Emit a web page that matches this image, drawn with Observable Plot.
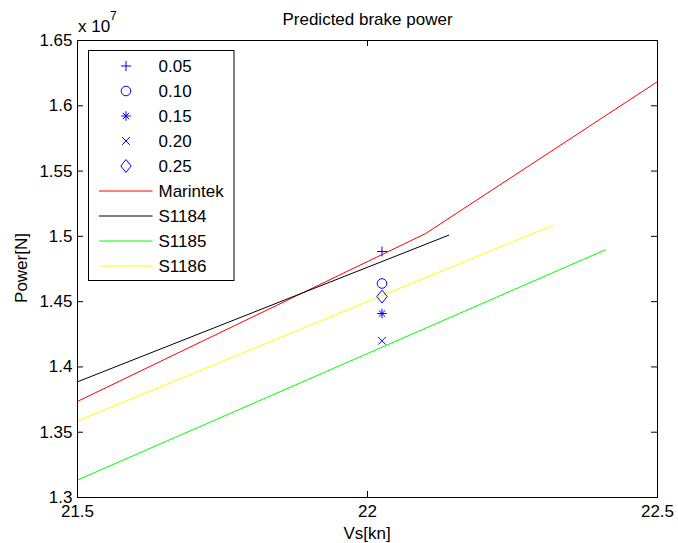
<!DOCTYPE html>
<html>
<head>
<meta charset="utf-8">
<script src="https://cdn.jsdelivr.net/npm/d3@7"></script>
<script src="https://cdn.jsdelivr.net/npm/@observablehq/plot@0.6"></script>
<style>
  html, body { margin: 0; padding: 0; background: #fff; }
  #chart { width: 678px; height: 543px; }
</style>
</head>
<body>
<div id="chart"></div>
<script>
// ---- data ----
const xTicks = [21.5, 22, 22.5];
const yTicks = [1.3e7, 1.35e7, 1.4e7, 1.45e7, 1.5e7, 1.55e7, 1.6e7, 1.65e7];

const markerLabels = ["0.05", "0.10", "0.15", "0.20", "0.25"];
const markerVs = [22.025, 22.025, 22.025, 22.025, 22.025];
const markerPower = [1.4884e7, 1.4639e7, 1.4409e7, 1.4200e7, 1.4539e7];

const seriesNames = ["Marintek", "S1184", "S1185", "S1186"];
const seriesColors = ["#ff0000", "#000000", "#00ff00", "#ffff00"];
const marintekVs = [21.5, 22.1, 22.5];
const marintekP = [1.3736e7, 1.5021e7, 1.6185e7];
const s1184Vs = [21.5, 22.14];
const s1184P = [1.3886e7, 1.5009e7];
const s1185Vs = [21.5, 22.41];
const s1185P = [1.3134e7, 1.4897e7];
const s1186Vs = [21.5, 22.32];
const s1186P = [1.3586e7, 1.5086e7];

// ---- helpers ----
const seriesVs = [marintekVs, s1184Vs, s1185Vs, s1186Vs];
const seriesP = [marintekP, s1184P, s1185P, s1186P];
const lineRows = seriesNames.flatMap((name, k) =>
  seriesVs[k].map((v, i) => ({name, vs: v, p: seriesP[k][i]})));

const diamondTall = {
  draw(ctx, size) {
    const h = Math.sqrt(size) * 0.76, w = h * 0.8;
    ctx.moveTo(0, -h); ctx.lineTo(w, 0); ctx.lineTo(0, h); ctx.lineTo(-w, 0); ctx.closePath();
  }
};
// marker spec per label: list of [symbol, r]
const markerSpecs = [
  [["plus", 3.32]],
  [["circle", 4.8]],
  [["plus", 3.2], ["times", 3.0]],
  [["times", 3.59]],
  [[diamondTall, 4.8]]
];
const d3Sym = {plus: d3.symbolPlus, circle: d3.symbolCircle, times: d3.symbolTimes};

const xDom = [21.5, 22.5], yDom = [1.3e7, 1.65e7];
const txLen = 0.0103, tyLen = 0.0046e7;
const fmtX = d => String(d);
const fmtY = d => String(+(d / 1e7).toFixed(2));

const dotMarks = [];
markerSpecs.forEach((specs, i) => {
  specs.forEach(([sym, r]) => {
    dotMarks.push(Plot.dot([i], {
      x: j => markerVs[j], y: j => markerPower[j],
      symbol: sym, r, stroke: "#0000ff", fill: "none", strokeWidth: 1
    }));
  });
});

const FONT = "'Liberation Sans', Arial, Helvetica, sans-serif";

const plot = Plot.plot({
  width: 678,
  height: 543,
  marginLeft: 77,
  marginRight: 21,
  marginTop: 40,
  marginBottom: 46,
  style: {fontFamily: FONT, fontSize: "17px", background: "#fff", color: "#000"},
  x: {domain: xDom},
  y: {domain: yDom},
  marks: [
    Plot.axisX({ticks: xTicks, tickSize: 0, tickPadding: 7, tickFormat: fmtX, label: null, fontSize: 17}),
    Plot.axisY({ticks: yTicks, tickSize: 0, tickPadding: 5, tickFormat: fmtY, label: null, fontSize: 17}),
    // inward ticks on all four sides
    Plot.ruleX(xTicks, {x: d => d, y1: yDom[0], y2: yDom[0] + tyLen, stroke: "#000"}),
    Plot.ruleX(xTicks, {x: d => d, y1: yDom[1] - tyLen, y2: yDom[1], stroke: "#000"}),
    Plot.ruleY(yTicks, {y: d => d, x1: xDom[0], x2: xDom[0] + txLen, stroke: "#000"}),
    Plot.ruleY(yTicks, {y: d => d, x1: xDom[1] - txLen, x2: xDom[1], stroke: "#000"}),
    Plot.line(lineRows, {
      x: "vs", y: "p", z: "name",
      stroke: d => seriesColors[seriesNames.indexOf(d.name)],
      strokeWidth: 1
    }),
    ...dotMarks,
    Plot.frame({stroke: "#000", strokeWidth: 1})
  ]
});

document.getElementById("chart").appendChild(plot);

// ---- annotations & legend ----
const svg = d3.select(plot);
const ann = svg.append("g").attr("font-family", FONT).attr("fill", "#000").attr("text-anchor", "start");
ann.append("text").attr("x", 367.5).attr("y", 25).attr("text-anchor", "middle")
  .attr("font-size", 17).text("Predicted brake power");
ann.append("text").attr("x", 367).attr("y", 539).attr("text-anchor", "middle")
  .attr("font-size", 17).text("Vs[kn]");
ann.append("text").attr("transform", "translate(27,268) rotate(-90)").attr("text-anchor", "middle")
  .attr("font-size", 17).text("Power[N]");
ann.append("text").attr("x", 78).attr("y", 31.5).attr("font-size", 17).attr("text-anchor", "start").text("x 10");
ann.append("text").attr("x", 110).attr("y", 20).attr("font-size", 12).attr("text-anchor", "start").text("7");

const leg = svg.append("g").attr("font-family", FONT).attr("text-anchor", "start");
leg.append("rect").attr("x", 88.5).attr("y", 50.5).attr("width", 145.5).attr("height", 230)
  .attr("fill", "#fff").attr("stroke", "#000").attr("stroke-width", 1);
const rowY = i => 66 + i * 25;
markerLabels.forEach((lab, i) => {
  const y = rowY(i);
  markerSpecs[i].forEach(([sym, r]) => {
    const s = typeof sym === "string" ? d3Sym[sym] : sym;
    leg.append("path").attr("transform", `translate(126,${y})`)
      .attr("d", d3.symbol(s, Math.PI * r * r)())
      .attr("fill", "none").attr("stroke", "#0000ff").attr("stroke-width", 1);
  });
  leg.append("text").attr("x", 158.5).attr("y", y + 6).attr("font-size", 17)
    .attr("text-anchor", "start").attr("fill", "#000").text(lab);
});
seriesNames.forEach((name, k) => {
  const y = rowY(markerLabels.length + k);
  leg.append("path").attr("d", `M99,${y}H152.5`)
    .attr("fill", "none").attr("stroke", seriesColors[k]).attr("stroke-width", 1.2);
  leg.append("text").attr("x", 158.5).attr("y", y + 6).attr("font-size", 17)
    .attr("text-anchor", "start").attr("fill", "#000").text(name);
});
</script>
</body>
</html>
